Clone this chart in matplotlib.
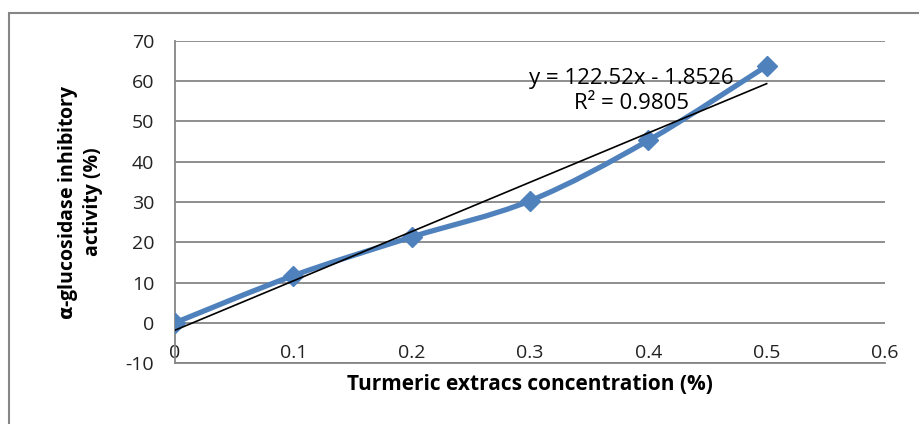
import matplotlib.pyplot as plt
import numpy as np
from matplotlib.path import Path
from matplotlib.patches import PathPatch, Rectangle

conc = [0, 0.1, 0.2, 0.3, 0.4, 0.5]
activity = [0, 11.7, 21.3, 30.3, 45.3, 63.8]
slope, intercept = 122.52, -1.8526
r2 = 0.9805

blue = "#4F81BD"
grey = "#868686"

plt.rcParams['font.family'] = ['Open Sans', 'DejaVu Sans']
plt.rcParams['axes.unicode_minus'] = False

fig = plt.figure(figsize=(9.19, 4.24), dpi=100)
ax = fig.add_axes([175 / 919, 61 / 424, 710 / 919, 322 / 424])

# outer chart frame (cropped on right and bottom)
fig.patches.append(Rectangle((9 / 919, -0.1), 1.2, 1.1 - 13 / 424,
                             transform=fig.transFigure, fill=False,
                             edgecolor=grey, lw=1.5))

# smoothed line like excel (catmull-rom -> bezier)
x = np.array(conc)
y = np.array(activity)
verts = [(x[0], y[0])]
codes = [Path.MOVETO]
for i in range(len(x) - 1):
    p0 = (x[max(i - 1, 0)], y[max(i - 1, 0)])
    p1 = (x[i], y[i])
    p2 = (x[i + 1], y[i + 1])
    p3 = (x[min(i + 2, len(x) - 1)], y[min(i + 2, len(x) - 1)])
    c1 = (p1[0] + (p2[0] - p0[0]) / 6, p1[1] + (p2[1] - p0[1]) / 6)
    c2 = (p2[0] - (p3[0] - p1[0]) / 6, p2[1] - (p3[1] - p1[1]) / 6)
    verts += [c1, c2, p2]
    codes += [Path.CURVE4] * 3
ax.add_patch(PathPatch(Path(verts, codes), fill=False, edgecolor=blue,
                       lw=3.8, zorder=3, capstyle='round'))
ax.plot(conc, activity, ls='none', marker='D', ms=10, color=blue, zorder=4)

# linear trendline
tx = np.array([conc[0], conc[-1]])
ax.plot(tx, slope * tx + intercept, color='black', lw=1.2, zorder=5)
ax.text(0.386, 57.6, "y = 122.52x - 1.8526\nR² = 0.9805", ha='center',
        va='center', fontsize=16, linespacing=1.25, zorder=6)

ax.set_xlim(0, 0.6)
ax.set_ylim(-10, 70)
ax.set_yticks(range(-10, 71, 10))
ax.set_xticks([0, 0.1, 0.2, 0.3, 0.4, 0.5, 0.6])
ax.set_xticklabels(["0", "0.1", "0.2", "0.3", "0.4", "0.5", "0.6"])
ax.yaxis.grid(True, color=grey, lw=1.3)
ax.set_axisbelow(True)
for s in ['top', 'right']:
    ax.spines[s].set_visible(False)
for s in ['left', 'bottom']:
    ax.spines[s].set_color(grey)
    ax.spines[s].set_linewidth(1.3)
ax.tick_params(axis='both', length=0, labelsize=14, colors='#222222')
ax.tick_params(axis='y', pad=15)
ax.tick_params(axis='x', pad=-14)

ax.set_xlabel("Turmeric extracs concentration (%)", fontsize=15,
              fontweight='bold', labelpad=8)
ax.set_ylabel("$\\mathbf{\\alpha}$-glucosidase inhibitory\nactivity (%)",
              fontsize=14, fontweight='bold', labelpad=16, linespacing=1.2)

fig.savefig("out.png", dpi=100)
